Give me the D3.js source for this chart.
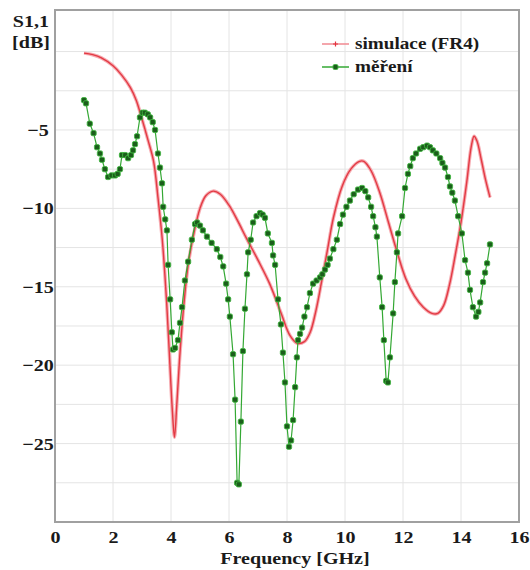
<!DOCTYPE html>
<html>
<head>
<meta charset="utf-8">
<script src="https://cdn.jsdelivr.net/npm/d3@7"></script>
<style>
    body { margin: 0; background: #fff; }
    svg text { font-family: "Liberation Serif", "Times New Roman", serif; font-weight: bold; fill: #1a1a1a; }
</style>
</head>
<body>
<svg class="graph" width="530" height="570" font-family="Liberation Serif"></svg>
<script>
// simulation (FR4) - frequency [GHz] and S11 [dB]
const simFreq = [1.0, 1.3, 1.6, 2.0, 2.3, 2.6, 2.8, 3.0, 3.2, 3.4, 3.55, 3.7, 3.85, 3.95, 4.05, 4.12, 4.2, 4.3, 4.45,
    4.6, 4.8, 5.0, 5.2, 5.45, 5.7, 6.0, 6.3, 6.6, 7.0, 7.4, 7.8, 8.1, 8.35, 8.6, 8.8, 9.0, 9.2, 9.4, 9.6, 9.9,
    10.2, 10.5, 10.65, 10.9, 11.2, 11.5, 11.8, 12.1, 12.4, 12.7, 13.0, 13.2, 13.4, 13.6, 13.8, 14.0, 14.2,
    14.35, 14.45, 14.55, 14.7, 14.85, 15.0];
const simDb = [-0.1, -0.2, -0.4, -0.9, -1.5, -2.3, -3.1, -4.3, -5.6, -7.0, -9.3, -12.0, -16.0, -19.5, -23.0, -24.6, -22.5, -19.5, -16.0,
    -13.5, -11.5, -10.0, -9.2, -8.9, -9.1, -9.8, -10.8, -11.9, -13.3, -14.8, -16.7, -18.1, -18.6, -18.5, -17.9, -16.5, -14.6, -12.6, -10.6, -8.6,
    -7.5, -7.0, -7.0, -7.6, -9.0, -10.9, -12.8, -14.5, -15.6, -16.3, -16.7, -16.7, -16.2, -14.9, -13.0, -10.9, -8.3,
    -6.1, -5.4, -5.7, -6.9, -8.2, -9.3];

// measurement - frequency [GHz] and S11 [dB]
const measFreq = [1.0, 1.07, 1.2, 1.33, 1.45, 1.55, 1.62, 1.72, 1.83, 1.95, 2.07, 2.16, 2.24, 2.31, 2.42, 2.52, 2.62, 2.69, 2.76, 2.83,
    2.93, 3.02, 3.1, 3.2, 3.28, 3.37, 3.45, 3.55, 3.62, 3.69, 3.73, 3.8, 3.86, 3.9, 3.97, 4.03, 4.07, 4.14, 4.24, 4.31,
    4.38, 4.48, 4.59, 4.72, 4.83, 4.9, 5.0, 5.1, 5.24, 5.4, 5.58, 5.7, 5.8, 5.9, 5.97, 6.03, 6.14, 6.21, 6.28, 6.34,
    6.41, 6.48, 6.55, 6.62, 6.66, 6.75, 6.83, 6.95, 7.07, 7.16, 7.24, 7.34, 7.48, 7.52, 7.59, 7.69, 7.79, 7.86, 7.93, 8.0,
    8.07, 8.14, 8.21, 8.28, 8.34, 8.38, 8.45, 8.52, 8.6, 8.69, 8.79, 8.9, 9.02, 9.14, 9.22, 9.31, 9.4, 9.48, 9.6, 9.72,
    9.83, 9.93, 10.05, 10.17, 10.3, 10.45, 10.59, 10.7, 10.8, 10.9, 10.97, 11.05, 11.1, 11.2, 11.28, 11.34, 11.42, 11.48, 11.55, 11.66,
    11.72, 11.79, 11.83, 11.97, 12.07, 12.17, 12.25, 12.34, 12.45, 12.59, 12.7, 12.83, 12.93, 13.03, 13.15, 13.28, 13.36, 13.45, 13.55, 13.62,
    13.7, 13.79, 13.9, 14.03, 14.14, 14.24, 14.31, 14.41, 14.52, 14.6, 14.66, 14.76, 14.83, 14.9, 15.0];
const measDb = [-3.1, -3.3, -4.6, -5.2, -6.1, -6.5, -6.9, -7.5, -8.0, -7.9, -7.9, -7.8, -7.5, -6.6, -6.6, -6.8, -6.6, -6.3, -5.9, -5.4,
    -4.2, -3.9, -3.9, -4.0, -4.2, -4.5, -5.0, -6.5, -7.4, -8.4, -9.9, -10.7, -11.4, -13.6, -15.8, -17.9, -19.0, -18.9, -18.4, -17.3,
    -16.3, -14.6, -13.4, -12.0, -11.0, -10.9, -11.1, -11.4, -11.8, -12.2, -12.6, -13.1, -13.7, -14.8, -15.8, -16.9, -19.3, -22.2, -27.5, -27.6,
    -23.6, -19.1, -16.4, -14.2, -12.8, -12.0, -10.9, -10.5, -10.3, -10.4, -10.6, -11.6, -12.2, -13.0, -13.6, -15.8, -17.4, -19.2, -21.1, -23.9,
    -25.2, -24.8, -23.5, -21.4, -19.5, -18.4, -18.0, -17.6, -16.9, -16.3, -15.4, -14.8, -14.6, -14.4, -14.2, -13.9, -13.6, -13.2, -12.6, -12.0,
    -11.0, -10.4, -9.9, -9.5, -9.1, -8.8, -8.7, -8.9, -9.3, -9.9, -10.5, -11.2, -11.8, -14.4, -16.3, -18.4, -21.0, -21.1, -19.5, -16.7,
    -14.7, -12.8, -11.6, -10.5, -8.7, -7.8, -7.3, -6.8, -6.5, -6.2, -6.1, -6.0, -6.1, -6.3, -6.5, -6.8, -7.1, -7.4, -8.0, -8.6,
    -9.0, -9.5, -10.5, -11.6, -13.3, -14.1, -15.2, -16.3, -16.9, -16.6, -16.0, -14.7, -14.1, -13.5, -12.3];

// tick values
const xTicks = [0, 2, 4, 6, 8, 10, 12, 14, 16];
const yTicks = [-5, -10, -15, -20, -25];
const yGrid = d3.range(-27.5, 2.5, 2.5);

const legendNames = ['simulace (FR4)', 'měření'];

// plot area
const plot = { left: 55, right: 519, top: 10, bottom: 522 };
// the source text is a bit stretched horizontally
const stretch = 'scale(1.18, 1)';

const svg = d3.select('svg.graph');

const x = d3.scaleLinear().domain([0, 16]).range([plot.left, plot.right]);
const y = d3.scaleLinear().domain([-30, 2.65]).range([plot.bottom, plot.top]);

// grid
svg.append('g')
    .selectAll('line').data(xTicks.slice(1, -1))
    .enter().append('line')
        .attr('x1', d => x(d)).attr('x2', d => x(d))
        .attr('y1', plot.top).attr('y2', plot.bottom)
        .attr('stroke', '#e4e4e4');

svg.append('g')
    .selectAll('line').data(yGrid)
    .enter().append('line')
        .attr('x1', plot.left).attr('x2', plot.right)
        .attr('y1', d => y(d)).attr('y2', d => y(d))
        .attr('stroke', '#e4e4e4');

// frame
svg.append('rect')
    .attr('x', plot.left).attr('y', plot.top)
    .attr('width', plot.right - plot.left).attr('height', plot.bottom - plot.top)
    .attr('fill', 'none')
    .attr('stroke', '#a0a0a0')
    .attr('stroke-width', 2);

// axes (labels only)
const xAxis = svg.append('g')
    .attr('transform', `translate(0, ${plot.bottom})`)
    .call(d3.axisBottom(x).tickValues(xTicks).tickSize(0).tickPadding(9));
xAxis.attr('font-family', null);
xAxis.select('.domain').remove();
xAxis.selectAll('text')
    .attr('font-size', 17)
    .attr('fill', '#1a1a1a')
    .attr('transform', stretch);

const yAxis = svg.append('g')
    .attr('transform', `translate(38, 0)`)
    .call(d3.axisLeft(y).tickValues(yTicks).tickSize(0).tickPadding(0));
yAxis.attr('font-family', null);
yAxis.select('.domain').remove();
yAxis.selectAll('text')
    .attr('text-anchor', 'middle')
    .attr('font-size', 17)
    .attr('fill', '#1a1a1a')
    .attr('transform', stretch);

// axis titles
svg.append('text')
    .attr('transform', `translate(49, 27) ${stretch}`)
    .attr('text-anchor', 'end')
    .attr('font-size', 17)
    .text('S1,1');
svg.append('text')
    .attr('transform', `translate(50, 48) ${stretch}`)
    .attr('text-anchor', 'end')
    .attr('font-size', 17)
    .text('[dB]');
svg.append('text')
    .attr('transform', `translate(295, 564) ${stretch}`)
    .attr('text-anchor', 'middle')
    .attr('font-size', 17)
    .text('Frequency [GHz]');

// curves
const sim = simFreq.map((f, i) => ({ f, v: simDb[i] }));
const meas = measFreq.map((f, i) => ({ f, v: measDb[i] }));

const line = d3.line().x(d => x(d.f)).y(d => y(d.v));

svg.append('path')
    .datum(sim)
    .attr('fill', 'none')
    .attr('stroke', '#f6adb3')
    .attr('stroke-width', 3.5)
    .attr('d', line.curve(d3.curveCatmullRom));
svg.append('path')
    .datum(sim)
    .attr('fill', 'none')
    .attr('stroke', '#e33a44')
    .attr('stroke-width', 1.4)
    .attr('d', line.curve(d3.curveCatmullRom));

svg.append('path')
    .datum(meas)
    .attr('fill', 'none')
    .attr('stroke', '#34a834')
    .attr('stroke-width', 1.2)
    .attr('d', line.curve(d3.curveLinear));

svg.append('g')
    .selectAll('rect').data(meas)
    .enter().append('rect')
        .attr('x', d => x(d.f) - 2.6)
        .attr('y', d => y(d.v) - 2.6)
        .attr('width', 5.2)
        .attr('height', 5.2)
        .attr('rx', 1.5)
        .attr('fill', '#1b5e1b')
        .attr('stroke', '#3fb53f')
        .attr('stroke-width', 0.9);

// legend
const legend = svg.append('g').attr('transform', 'translate(322, 44)');
legend.append('line')
    .attr('x1', 0).attr('x2', 27).attr('y1', 0).attr('y2', 0)
    .attr('stroke', '#f08890').attr('stroke-width', 1.5);
legend.append('path')
    .attr('d', 'M11,0H16M13.5,-2.5V2.5')
    .attr('stroke', '#e3343f').attr('stroke-width', 1.2);
legend.append('line')
    .attr('x1', 0).attr('x2', 27).attr('y1', 23).attr('y2', 23)
    .attr('stroke', '#34a834').attr('stroke-width', 1.5);
legend.append('rect')
    .attr('x', 11).attr('y', 20.5).attr('width', 5).attr('height', 5).attr('rx', 1.5)
    .attr('fill', '#1b5e1b').attr('stroke', '#3fb53f').attr('stroke-width', 0.9);
legend.selectAll('text').data(legendNames)
    .enter().append('text')
        .attr('transform', (d, i) => `translate(33, ${5 + i * 23}) scale(1.2, 1)`)
        .attr('font-size', 16)
        .text(d => d);
</script>
</body>
</html>
